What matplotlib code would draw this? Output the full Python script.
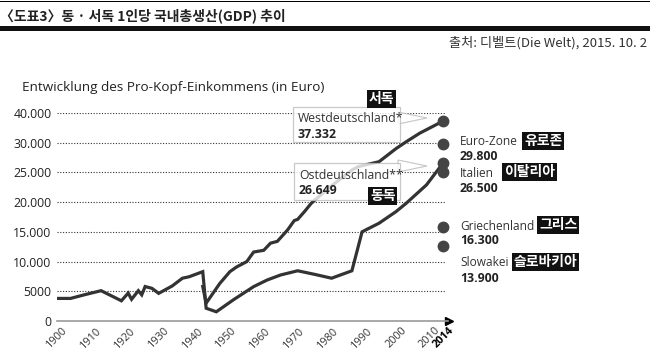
import numpy as np
import matplotlib
matplotlib.use('Agg')
import matplotlib.pyplot as plt
import matplotlib.transforms as mtransforms
from matplotlib.patches import Rectangle, Polygon

plt.rcParams['font.family'] = ['Open Sans', 'Noto Sans CJK KR', 'DejaVu Sans']

## data
years_east = [1900, 1904, 1908, 1913, 1919, 1921, 1922, 1924, 1925, 1926, 1928, 1930,
              1934, 1937, 1939, 1943, 1944, 1947, 1952, 1958, 1962, 1966, 1971, 1976,
              1981, 1987, 1990, 1991, 1995, 2000, 2003, 2009, 2014]
gdp_east = [3800, 3800, 4400, 5100, 3400, 4700, 3650, 5100, 4400, 5800, 5500, 4650,
            5900, 7200, 7450, 8300, 2150, 1550, 3550, 5780, 6900, 7750, 8450, 7850,
            7200, 8450, 15000, 15300, 16450, 18400, 19800, 22900, 26649]

years_west = [1943, 1944, 1948, 1951, 1953, 1956, 1958, 1961, 1963, 1965, 1968, 1970,
              1971, 1973, 1975, 1980, 1987, 1989, 1995, 2000, 2003, 2007, 2014]
gdp_west = [5800, 3000, 6300, 8300, 9100, 10000, 11600, 11900, 13100, 13400, 15300, 16900,
            17100, 18400, 19800, 22300, 25400, 26000, 26800, 29000, 30300, 33200, 37332]

others = ['Euro-Zone', 'Italien', 'Griechenland', 'Slowakei']
others_ko = ['유로존', '이탈리아', '그리스', '슬로바키아']
others_2014 = [29800, 26500, 16300, 13900]

y_levels = [0, 5000, 10000, 15000, 20000, 25000, 30000, 40000]
y_labels = ['0', '5000', '10.000', '15.000', '20.000', '25.000', '30.000', '40.000']
x_ticks = [1900, 1910, 1920, 1930, 1940, 1950, 1960, 1970, 1980, 1990, 2000, 2010, 2014]

W, H = 650, 360
fig = plt.figure(figsize=(6.5, 3.6), dpi=100)

def fx(x):
    return x / W

def fy(y):
    return 1 - y / H

def pts(xy):
    return [(fx(a), fy(b)) for a, b in xy]

## header
fig.add_artist(Rectangle((0, fy(2)), 1, 1.2 / H, transform=fig.transFigure, color='black', lw=0))
fig.add_artist(Rectangle((0, fy(30.5)), 1, 4.5 / H, transform=fig.transFigure, color='#111', lw=0))
fig.text(fx(0), fy(16), '〈도표3〉동 · 서독 1인당 국내총생산(GDP) 추이', family=['Noto Sans CJK KR'],
         fontsize=10, fontweight='bold', color='#222', ha='left', va='center')
fig.text(fx(647), fy(43), '출처: 디벨트(Die Welt), 2015. 10. 2', family=['Noto Sans CJK KR'],
         fontsize=9.5, color='#333', ha='right', va='center')
fig.text(fx(22), fy(88), 'Entwicklung des Pro-Kopf-Einkommens (in Euro)',
         fontsize=9.7, color='#222', ha='left', va='center')

## axes with the uneven y scale (30.000 -> 40.000 takes one step)
ax = fig.add_axes([fx(57), fy(321), (448.5 - 57) / W, (321 - 113) / H])
steps = np.arange(len(y_levels))

def fwd(v):
    return np.interp(v, y_levels, steps)

def inv(i):
    return np.interp(i, steps, y_levels)

ax.set_yscale('function', functions=(fwd, inv))
ax.set_xlim(1900, 2015.5)
ax.set_ylim(0, 40000)
for s in ['top', 'right', 'left']:
    ax.spines[s].set_visible(False)
ax.spines['bottom'].set_color('#999')
ax.spines['bottom'].set_linewidth(1.2)
ax.plot(1, 0, marker='>', color='black', ms=6, transform=ax.transAxes, clip_on=False)

ax.set_yticks(y_levels)
ax.set_yticklabels(y_labels)
ax.yaxis.set_minor_locator(matplotlib.ticker.NullLocator())
ax.tick_params(axis='y', length=0, pad=4, labelsize=8.8, labelcolor='#222')
ax.set_xticks(x_ticks)
ax.set_xticklabels([str(t) for t in x_ticks])
ax.tick_params(axis='x', length=0, pad=3, labelsize=7.8, labelcolor='#333')
for lab in ax.get_xticklabels():
    lab.set_rotation(45)
    lab.set_ha('center')
    lab.set_va('top')
ax.get_xticklabels()[-1].set_fontweight('bold')
ax.get_xticklabels()[-1].set_color('black')

ax.hlines(y_levels[1:], 1900, 2014.5, colors='#333', linestyles=(0, (1, 1.5)), lw=0.8, zorder=1)

ax.plot(years_east, gdp_east, color='#333', lw=2.3, solid_joinstyle='miter', zorder=3)
ax.plot(years_west, gdp_west, color='#333', lw=2.3, solid_joinstyle='miter', zorder=3)

## 2014 dots
ax.plot([2014, 2014], [gdp_west[-1], gdp_east[-1]], 'o', color='#444', ms=7.5, clip_on=False, zorder=5)
nudge = [0, -8, -3, -8]
for v, dy in zip(others_2014, nudge):
    tr = mtransforms.offset_copy(ax.transData, fig=fig, x=0, y=dy, units='dots')
    ax.plot([2014], [v], 'o', color='#444', ms=7.5, clip_on=False, zorder=5, transform=tr)

## callout boxes for East / West
def callout(box, tip, name, value):
    x0, y0, x1, y1 = box
    fig.add_artist(Polygon(pts([(x1 - 2, tip[1] - 6), tip, (x1 - 2, tip[1] + 6)]), closed=True,
                           transform=fig.transFigure, fc='white', ec='#bbb', lw=0.8, alpha=0.85, zorder=6))
    fig.add_artist(Rectangle((fx(x0), fy(y1)), (x1 - x0) / W, (y1 - y0) / H, transform=fig.transFigure,
                             fc='white', ec='#bbb', lw=0.9, alpha=0.8, zorder=7))
    fig.text(fx(x0 + 5), fy(y0 + 12), name, fontsize=8.8, color='#333', ha='left', va='center', zorder=8)
    fig.text(fx(x0 + 5), fy(y0 + 27), value, fontsize=8.8, fontweight='bold', color='#222',
             ha='left', va='center', zorder=8)

callout((293, 107, 400, 142), (427, 118), 'Westdeutschland*', '37.332')
callout((294, 163, 400, 200), (427, 166), 'Ostdeutschland**', '26.649')

def tag(x, y, s):
    fig.text(fx(x), fy(y), s, family=['Noto Sans CJK KR'], fontsize=10, fontweight='bold',
             color='white', ha='left', va='center', zorder=9,
             bbox=dict(boxstyle='square,pad=0.12', fc='#111', ec='none'))

tag(369, 99, '서독')
tag(370, 196, '동독')

## labels for the other countries
lab_y = [142, 173, 226, 263]
tag_x = [524, 504, 539, 514]
for name, ko, v, ly, tx in zip(others, others_ko, others_2014, lab_y, tag_x):
    fig.text(fx(460), fy(ly), name, fontsize=8.6, color='#333', ha='left', va='center')
    fig.text(fx(460), fy(ly + 15), f'{v:,}'.replace(',', '.'), fontsize=8.8, fontweight='bold',
             color='#222', ha='left', va='center')
    tag(tx, ly - 1, ko)

fig.savefig('out.png', dpi=100)
